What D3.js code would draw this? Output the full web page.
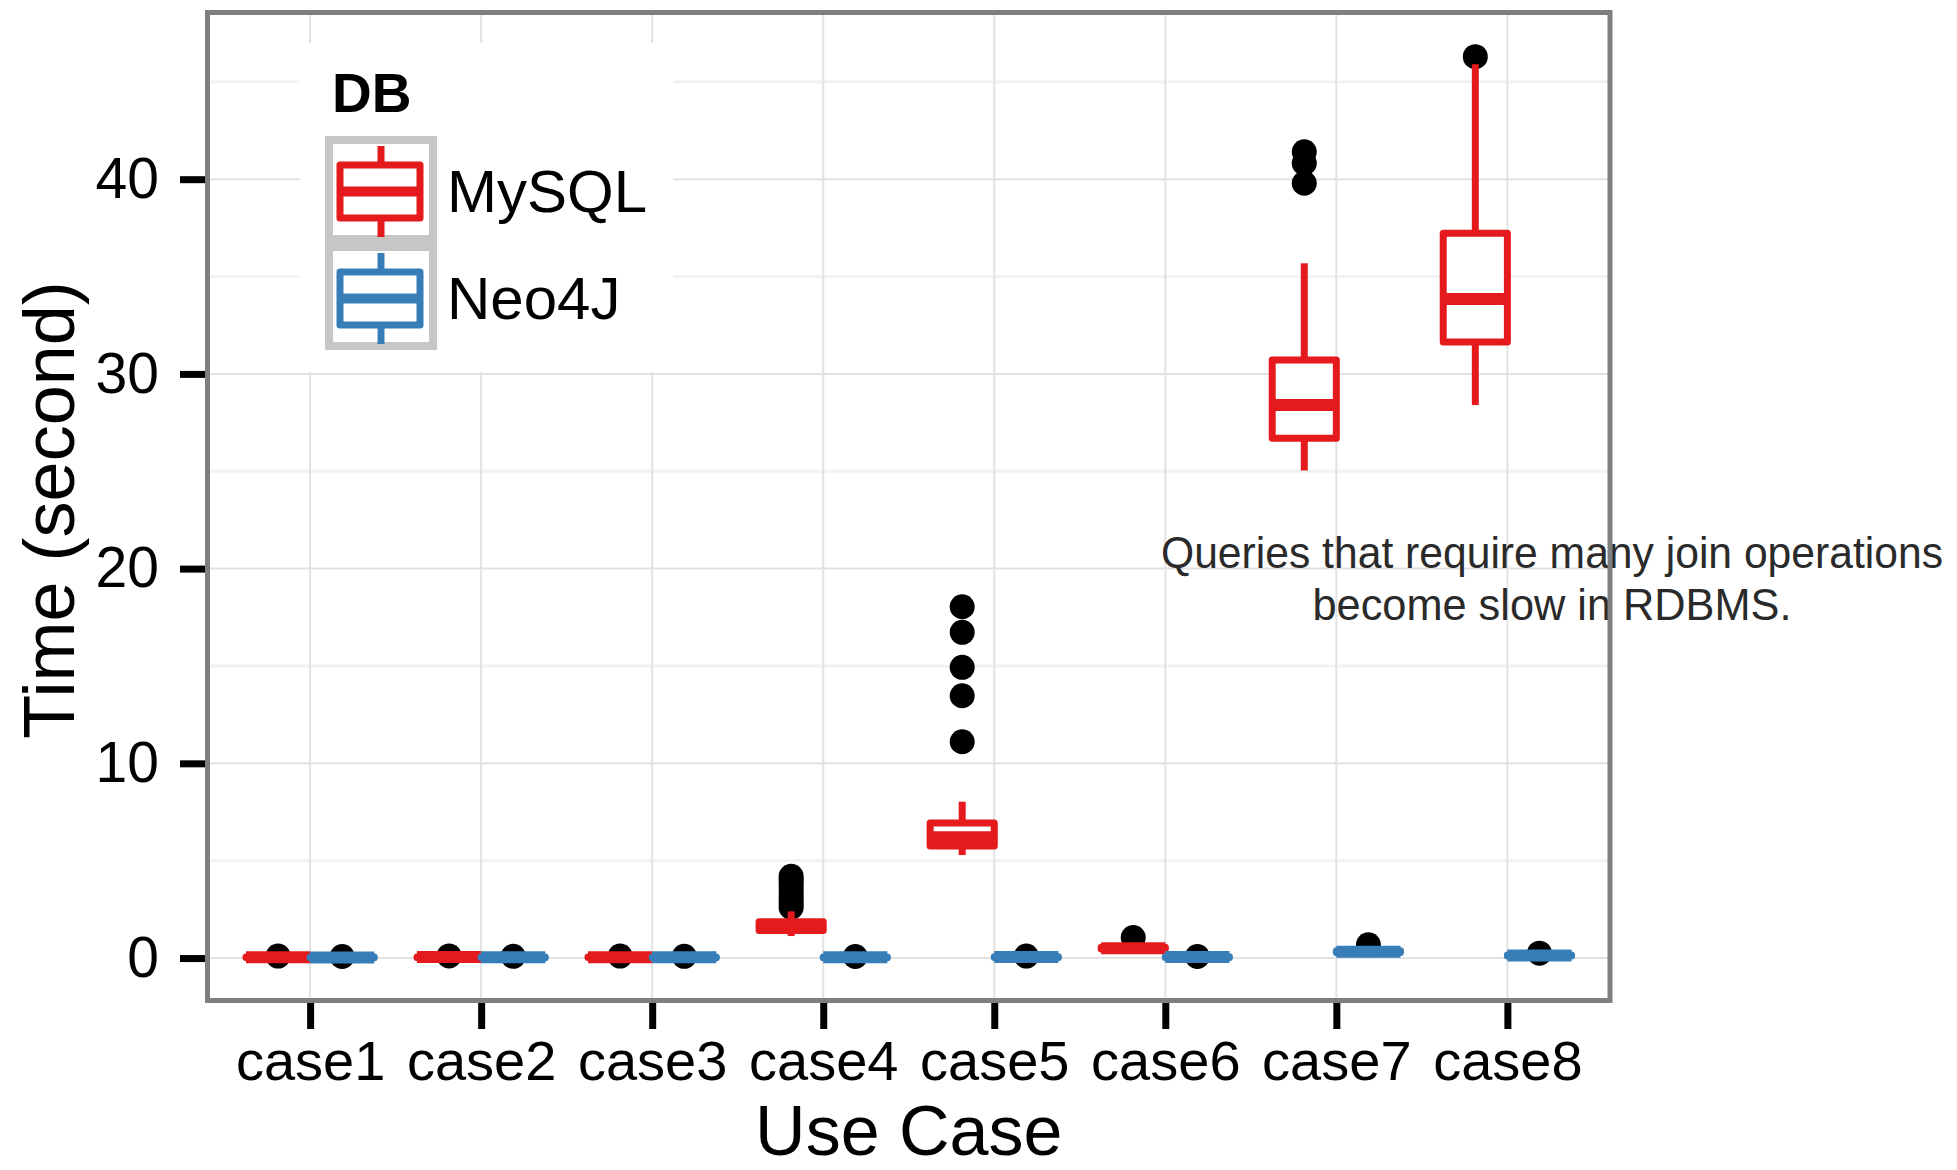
<!DOCTYPE html>
<html>
<head>
<meta charset="utf-8">
<title>Time per use case</title>
<script src="https://cdnjs.cloudflare.com/ajax/libs/d3/7.8.5/d3.min.js"></script>
<style>
    body { margin: 0; background: white; }
    text { font-family: "Liberation Sans", Arial, Helvetica, sans-serif; }
</style>
</head>
<body>
<div id="chart"></div>
<script>
    // data
    var cases = ["case1", "case2", "case3", "case4", "case5", "case6", "case7", "case8"];
    var dbs = ["MySQL", "Neo4J"];
    var colors = ["#E41A1C", "#377EB8"];

    // [lower whisker, q1, median, q3, upper whisker]
    var mysqlStats = [
        [0.01, 0.03, 0.04, 0.05, 0.07],
        [0.01, 0.03, 0.05, 0.06, 0.08],
        [0.01, 0.03, 0.04, 0.05, 0.07],
        [1.13, 1.41, 1.62, 1.86, 2.40],
        [5.29, 5.76, 6.21, 6.93, 8.03],
        [0.40, 0.46, 0.50, 0.55, 0.62],
        [25.04, 26.70, 28.40, 30.71, 35.68],
        [28.40, 31.64, 33.85, 37.22, 45.90]
    ];
    var neo4jStats = [
        [0.00, 0.02, 0.03, 0.05, 0.07],
        [0.00, 0.02, 0.04, 0.05, 0.07],
        [0.00, 0.02, 0.04, 0.05, 0.07],
        [0.00, 0.02, 0.04, 0.05, 0.07],
        [0.00, 0.03, 0.05, 0.07, 0.09],
        [0.00, 0.03, 0.05, 0.07, 0.09],
        [0.25, 0.29, 0.33, 0.37, 0.45],
        [0.05, 0.10, 0.13, 0.16, 0.20]
    ];
    var mysqlOutliers = [
        [0.10], [0.11], [0.10],
        [2.6, 2.8, 3.0, 3.2, 3.4, 3.6, 3.8, 4.0, 4.2],
        [11.11, 13.47, 14.93, 16.73, 18.04],
        [1.05],
        [39.79, 40.82, 41.41],
        [46.29]
    ];
    var neo4jOutliers = [
        [0.08], [0.09], [0.09], [0.08], [0.10], [0.08], [0.68], [0.25]
    ];
    var yTicks = [0, 10, 20, 30, 40];
    var yMinor = [5, 15, 25, 35, 45];
    var note = ["Queries that require many join operations", "become slow in RDBMS."];

    var width = 1957, height = 1170;
    var panel = {left: 207.5, right: 1610, top: 12.5, bottom: 1000.5};

    var svg = d3.select("#chart").append("svg")
        .attr("width", width)
        .attr("height", height);

    var x = d3.scalePoint().domain(cases).range([panel.left, panel.right]).padding(0.6);
    var step = x.step();
    var dodge = d3.scaleBand().domain(dbs).range([-0.375 * step, 0.375 * step]);
    var bw = dodge.bandwidth();
    var y = d3.scaleLinear().domain([-2.18, 48.56]).range([panel.bottom, panel.top]);

    // grid
    var grid = svg.append("g");
    grid.selectAll(".minor").data(yMinor).enter().append("line")
        .attr("x1", panel.left).attr("x2", panel.right)
        .attr("y1", function(d){ return y(d); }).attr("y2", function(d){ return y(d); })
        .attr("stroke", "#f2f2f2").attr("stroke-width", 3);
    grid.selectAll(".major").data(yTicks).enter().append("line")
        .attr("x1", panel.left).attr("x2", panel.right)
        .attr("y1", function(d){ return y(d); }).attr("y2", function(d){ return y(d); })
        .attr("stroke", "#e2e2e2").attr("stroke-width", 2);
    grid.selectAll(".vert").data(cases).enter().append("line")
        .attr("x1", function(d){ return x(d); }).attr("x2", function(d){ return x(d); })
        .attr("y1", panel.top).attr("y2", panel.bottom)
        .attr("stroke", "#e2e2e2").attr("stroke-width", 2);

    // boxes
    var allStats = [mysqlStats, neo4jStats];
    var allOut = [mysqlOutliers, neo4jOutliers];
    var boxes = svg.append("g");
    cases.forEach(function(c, j){
        dbs.forEach(function(db, i){
            var s = allStats[i][j];
            var cx = x(c) + dodge(db) + bw / 2;
            var g = boxes.append("g").attr("transform", "translate(" + cx + ",0)");
            g.selectAll("circle").data(allOut[i][j]).enter().append("circle")
                .attr("cx", 0).attr("cy", function(d){ return y(d); })
                .attr("r", 12.5).attr("fill", "black");
            g.append("line").attr("x1", 0).attr("x2", 0)
                .attr("y1", y(s[0])).attr("y2", y(s[1]))
                .attr("stroke", colors[i]).attr("stroke-width", 7);
            g.append("line").attr("x1", 0).attr("x2", 0)
                .attr("y1", y(s[3])).attr("y2", y(s[4]))
                .attr("stroke", colors[i]).attr("stroke-width", 7);
            g.append("rect")
                .attr("x", -bw / 2).attr("width", bw)
                .attr("y", y(s[3])).attr("height", Math.max(0, y(s[1]) - y(s[3])))
                .attr("fill", "white").attr("stroke", colors[i])
                .attr("stroke-width", 7).attr("stroke-linejoin", "round");
            g.append("line").attr("x1", -bw / 2).attr("x2", bw / 2)
                .attr("y1", y(s[2])).attr("y2", y(s[2]))
                .attr("stroke", colors[i]).attr("stroke-width", 12);
        });
    });

    // annotation
    var noteG = svg.append("g")
        .attr("font-family", "'Liberation Sans Narrow', 'Arial Narrow', 'Liberation Sans', sans-serif")
        .attr("font-size", 44).attr("fill", "#2a2a2a").attr("text-anchor", "middle");
    noteG.append("text").attr("x", 1552).attr("y", 568)
        .attr("textLength", 782).attr("lengthAdjust", "spacingAndGlyphs").text(note[0]);
    noteG.append("text").attr("x", 1552).attr("y", 620)
        .attr("textLength", 479).attr("lengthAdjust", "spacingAndGlyphs").text(note[1]);

    // panel border
    svg.append("rect")
        .attr("x", panel.left).attr("y", panel.top)
        .attr("width", panel.right - panel.left).attr("height", panel.bottom - panel.top)
        .attr("fill", "none").attr("stroke", "#7f7f7f").attr("stroke-width", 5);

    // axes
    var yAxis = svg.append("g")
        .attr("transform", "translate(" + (panel.left - 2.5) + ",0)")
        .call(d3.axisLeft(y).tickValues(yTicks).tickSize(25).tickPadding(21));
    var xAxis = svg.append("g")
        .attr("transform", "translate(0," + (panel.bottom + 2.5) + ")")
        .call(d3.axisBottom(x).tickSize(26));
    [xAxis, yAxis].forEach(function(a){
        a.select(".domain").remove();
        a.selectAll(".tick line").attr("stroke", "black").attr("stroke-width", 7);
        a.selectAll("text").attr("fill", "black")
            .attr("font-family", "'Liberation Sans', Arial, sans-serif");
    });
    yAxis.selectAll("text").attr("font-size", 57);
    xAxis.selectAll("text").attr("font-size", 56).attr("dy", null).attr("y", 77);

    svg.append("text")
        .attr("x", (panel.left + panel.right) / 2).attr("y", 1155)
        .attr("text-anchor", "middle").attr("font-size", 70)
        .text("Use Case");
    svg.append("text")
        .attr("transform", "translate(74,510) rotate(-90)")
        .attr("text-anchor", "middle").attr("font-size", 72)
        .text("Time (second)");

    // legend
    var legend = svg.append("g");
    legend.append("rect").attr("x", 300).attr("y", 43).attr("width", 373).attr("height", 329)
        .attr("fill", "white");
    legend.append("text").attr("x", 332).attr("y", 112)
        .attr("font-size", 55).attr("font-weight", "bold").text("DB");
    var keySize = 107;
    dbs.forEach(function(db, i){
        var kx = 325, ky = 136 + i * keySize;
        var k = legend.append("g").attr("transform", "translate(" + kx + "," + ky + ")");
        k.append("rect").attr("x", 4).attr("y", 4).attr("width", 104).attr("height", keySize - 8)
            .attr("fill", "white").attr("stroke", "#c6c6c6").attr("stroke-width", 8);
        var mx = 56;
        k.append("line").attr("x1", mx).attr("x2", mx).attr("y1", 10).attr("y2", 29)
            .attr("stroke", colors[i]).attr("stroke-width", 7);
        k.append("line").attr("x1", mx).attr("x2", mx).attr("y1", 82).attr("y2", 101)
            .attr("stroke", colors[i]).attr("stroke-width", 7);
        k.append("rect").attr("x", 15).attr("y", 29).attr("width", 80).attr("height", 53)
            .attr("fill", "white").attr("stroke", colors[i]).attr("stroke-width", 7)
            .attr("stroke-linejoin", "round");
        k.append("line").attr("x1", 15).attr("x2", 95).attr("y1", 55.5).attr("y2", 55.5)
            .attr("stroke", colors[i]).attr("stroke-width", 10);
        legend.append("text").attr("x", 447).attr("y", ky + 76)
            .attr("font-size", 60).text(db);
    });
</script>
</body>
</html>
